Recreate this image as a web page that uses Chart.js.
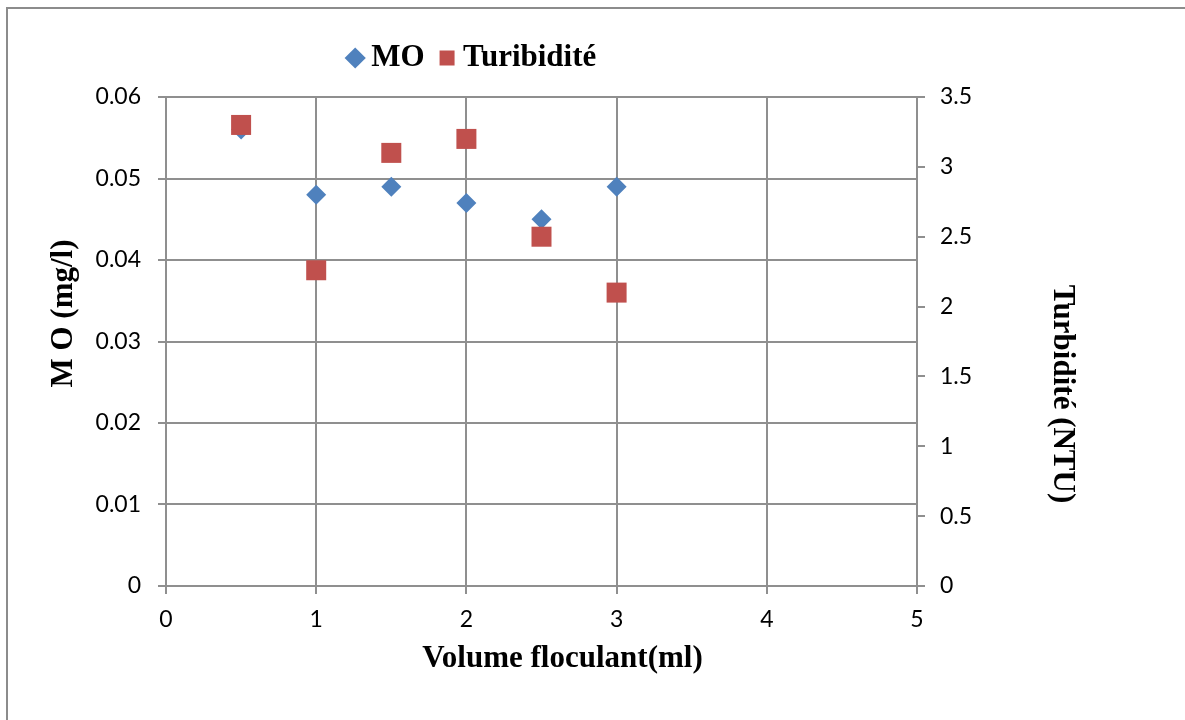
<!DOCTYPE html>
<html>
<head>
<meta charset="utf-8">
<script src="https://cdn.jsdelivr.net/npm/chart.js@4.4.1/dist/chart.umd.min.js"></script>
<style>
  html, body { margin: 0; padding: 0; background: #ffffff; }
  #wrap { position: relative; width: 1185px; height: 720px; overflow: hidden; }
  canvas { display: block; }
</style>
</head>
<body>
<div id="wrap"><canvas id="c" width="1185" height="720"></canvas></div>
<script>
// ---- data ----
const volumes = [0.5, 1, 1.5, 2, 2.5, 3];
const moValues = [0.056, 0.048, 0.049, 0.047, 0.045, 0.049];
const turbValues = [3.30, 2.26, 3.10, 3.20, 2.50, 2.10];
const seriesNames = ['MO', 'Turibidité'];
const xTickLabels = ['0', '1', '2', '3', '4', '5'];
const moTickLabels = ['0', '0.01', '0.02', '0.03', '0.04', '0.05', '0.06'];
const turbTickLabels = ['0', '0.5', '1', '1.5', '2', '2.5', '3', '3.5'];
const xTitle = 'Volume floculant(ml)';
const yTitle = 'M O (mg/l)';
const y2Title = 'Turbidité (NTU)';

const GRID = '#8f8f8f';
const TICK_FONT = { family: 'Lato', size: 23 };
const TITLE_FONT = { family: 'Liberation Serif', size: 31, weight: 'bold' };

function shiftTitle(scale, dx, dy) {
  if (scale._titleShifted) return;
  const orig = scale.drawTitle.bind(scale);
  scale.drawTitle = function () {
    const ctx = scale.ctx;
    ctx.save();
    ctx.translate(dx, dy);
    orig();
    ctx.restore();
  };
  scale._titleShifted = true;
}

const layoutPlugin = {
  id: 'layoutFix',
  afterInit(chart) {
    const lg = chart.legend;
    if (lg && !lg._fitWrapped) {
      const origFit = lg.fit.bind(lg);
      lg.fit = function () { origFit(); this.height = 97; };
      lg._fitWrapped = true;
    }
  },
  afterLayout(chart) {
    const lg = chart.legend;
    if (lg) {
      const dx = -117, dy = 20.5;
      lg.left += dx; lg.right += dx; lg.top += dy; lg.bottom += dy;
    }
    shiftTitle(chart.scales.x, 21, 0);
    shiftTitle(chart.scales.y, 0, -28);
    shiftTitle(chart.scales.y2, 0, 52.5);
  },
  afterDraw(chart) {
    const ctx = chart.ctx;
    ctx.save();
    ctx.strokeStyle = '#8c8c8c';
    ctx.lineWidth = 2;
    ctx.strokeRect(7, 8, 1200, 740);
    ctx.restore();
  }
};

new Chart(document.getElementById('c'), {
  type: 'scatter',
  data: {
    datasets: [
      {
        label: seriesNames[0],
        data: volumes.map((v, i) => ({ x: v, y: moValues[i] })),
        yAxisID: 'y',
        pointStyle: 'rectRot',
        pointRadius: 10,
        pointHoverRadius: 10,
        backgroundColor: '#4F81BD',
        borderColor: '#4F81BD',
        borderWidth: 0,
        order: 2
      },
      {
        label: seriesNames[1],
        data: volumes.map((v, i) => ({ x: v, y: turbValues[i] })),
        yAxisID: 'y2',
        pointStyle: 'rect',
        pointRadius: 14.14,
        pointHoverRadius: 14.14,
        backgroundColor: '#C0504D',
        borderColor: '#C0504D',
        borderWidth: 0,
        order: 1
      }
    ]
  },
  options: {
    responsive: false,
    animation: false,
    devicePixelRatio: 1,
    layout: { padding: 0 },
    plugins: {
      tooltip: { enabled: false },
      legend: {
        display: true,
        position: 'top',
        labels: {
          usePointStyle: true,
          boxWidth: 1,
          boxHeight: 15,
          padding: 22,
          color: '#000000',
          font: { family: 'Liberation Serif', size: 31, weight: 'bold' },
          sort: (a, b) => a.datasetIndex - b.datasetIndex
        }
      }
    },
    scales: {
      x: {
        type: 'linear',
        position: 'bottom',
        min: 0, max: 5,
        afterBuildTicks: (s) => { s.ticks = xTickLabels.map((t, i) => ({ value: i })); },
        ticks: {
          color: '#000000',
          font: TICK_FONT,
          padding: 12,
          maxRotation: 0,
          callback: (v, i) => xTickLabels[i]
        },
        grid: { color: GRID, lineWidth: 2, tickLength: 8, drawTicks: true },
        border: { display: true, color: GRID, width: 2 },
        title: {
          display: true, text: xTitle, color: '#000000',
          font: TITLE_FONT, padding: { top: 0, bottom: 42.4 }
        },
        afterFit: (s) => { s.height = 134; }
      },
      y: {
        type: 'linear',
        position: 'left',
        min: 0, max: 0.06,
        afterBuildTicks: (s) => { s.ticks = moTickLabels.map((t, i) => ({ value: i * 0.01 })); },
        ticks: {
          color: '#000000',
          font: TICK_FONT,
          padding: 17,
          callback: (v, i) => moTickLabels[i]
        },
        grid: { color: GRID, lineWidth: 2, tickLength: 8, drawTicks: true },
        border: { display: true, color: GRID, width: 2 },
        title: {
          display: true, text: yTitle, color: '#000000',
          font: TITLE_FONT, padding: { top: 45.4, bottom: 0 }
        },
        afterFit: (s) => { s.width = 166; }
      },
      y2: {
        type: 'linear',
        position: 'right',
        min: 0, max: 3.5,
        afterBuildTicks: (s) => { s.ticks = turbTickLabels.map((t, i) => ({ value: i * 0.5 })); },
        ticks: {
          color: '#000000',
          font: TICK_FONT,
          padding: 15,
          callback: (v, i) => turbTickLabels[i]
        },
        grid: { color: GRID, lineWidth: 2, tickLength: 8, drawTicks: true, drawOnChartArea: false },
        border: { display: true, color: GRID, width: 2 },
        title: {
          display: true, text: y2Title, color: '#000000',
          font: TITLE_FONT, padding: { top: 104.4, bottom: 0 }
        },
        afterFit: (s) => { s.width = 268; }
      }
    }
  },
  plugins: [layoutPlugin]
});
</script>
</body>
</html>
